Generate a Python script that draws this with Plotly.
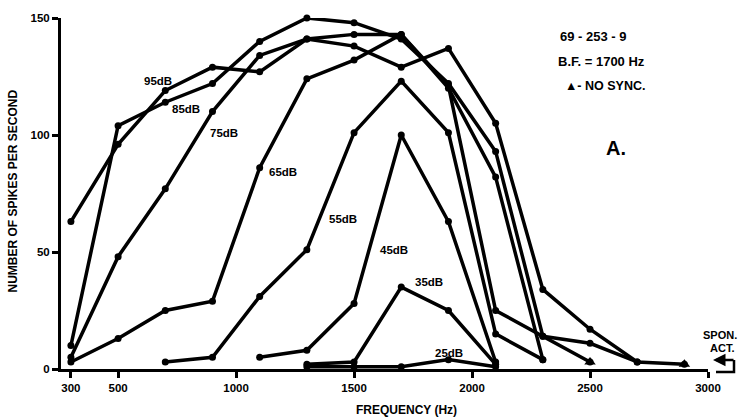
import plotly.graph_objects as go

# ---------------- data ----------------
freq = [300, 500, 700, 900, 1100, 1300, 1500, 1700, 1900, 2100, 2300, 2500, 2700, 2900]

db95 = [63, 96, 119, 129, 127, 141, 138, 129, 137, 105, 34, 17, 3, 2]
db85 = [10, 104, 114, 122, 140, 150, 148, 141, 122, 93, 14, 3, None, None]
db75 = [5, 48, 77, 110, 134, 141, 143, 143, 120, 82, 4, None, None, None]
db65 = [3, 13, 25, 29, 86, 124, 132, 143, 121, 25, 14, 11, 3, None]
db55 = [None, None, 3, 5, 31, 51, 101, 123, 101, 15, 4, None, None, None]
db45 = [None, None, None, None, 5, 8, 28, 100, 63, 3, None, None, None, None]
db35 = [None, None, None, None, None, 2, 3, 35, 25, 2, None, None, None, None]
db25 = [None, None, None, None, None, 1, 1, 1, 4, 1, None, None, None, None]

curve_names = ["95dB", "85dB", "75dB", "65dB", "55dB", "45dB", "35dB", "25dB"]
curves = [db95, db85, db75, db65, db55, db45, db35, db25]

# curve label positions (Hz, spikes/s) - left edge of text
label_x = [601, 720, 881, 1131, 1385, 1601, 1750, 1835]
label_y = [123, 111, 101, 84, 64, 51, 37, 7]

nosync_x = [2500, 2900]
nosync_y = [3, 2]

xtick_vals = [300, 500, 1000, 1500, 2000, 2500, 3000]
ytick_vals = [0, 50, 100, 150]

FONT = "Liberation Sans"

fig = go.Figure()
for name, vals in zip(curve_names, curves):
    xs = [f for f, v in zip(freq, vals) if v is not None]
    ys = [v for v in vals if v is not None]
    fig.add_trace(go.Scatter(
        x=xs, y=ys, mode="lines+markers", name=name,
        line=dict(color="black", width=3.5),
        marker=dict(color="black", size=7),
        cliponaxis=False, showlegend=False,
    ))

fig.add_trace(go.Scatter(
    x=nosync_x, y=nosync_y, mode="markers",
    marker=dict(color="black", size=10, symbol="triangle-up"),
    cliponaxis=False, showlegend=False,
))

for name, lx, ly in zip(curve_names, label_x, label_y):
    fig.add_annotation(x=lx, y=ly, xref="x", yref="y", text=name, showarrow=False,
                       font=dict(family=FONT, size=11.5, color="black", weight="bold"),
                       xanchor="left", yanchor="middle")

def px(xp):
    return (xp - 61) / 647.0

def py(yp):
    return (369 - yp) / 354.0

def note(xp, yp, text, size=12, angle=0):
    fig.add_annotation(x=px(xp), y=py(yp), xref="paper", yref="paper", text=text,
                       showarrow=False, xanchor="center", yanchor="middle", textangle=angle,
                       font=dict(family=FONT, size=size, color="black", weight="bold"))

note(593, 34, "69 - 253 - 9", size=13)
note(601, 59, "B.F. = 1700 Hz", size=13)
note(605, 84, "\u25b2- NO SYNC.", size=12.5)
note(616, 146, "A.", size=20)
note(720, 335, "SPON.", size=11)
note(722, 348, "ACT.", size=11)
note(406, 410, "FREQUENCY (Hz)")
note(13, 190, "NUMBER OF SPIKES PER SECOND", angle=-90)

# spontaneous activity arrow (bracket)
fig.add_annotation(x=px(713), y=py(360), ax=22, ay=0, xref="paper", yref="paper",
                   axref="pixel", ayref="pixel", text="", showarrow=True, arrowhead=2,
                   arrowsize=1, arrowwidth=2.5, arrowcolor="black")
fig.add_shape(type="path", xref="paper", yref="paper",
              path=f"M {px(734)} {py(360)} L {px(734)} {py(372)} L {px(716)} {py(372)}",
              line=dict(color="black", width=2.5))

fig.update_xaxes(range=[258, 3000], tickvals=xtick_vals, ticktext=[str(v) for v in xtick_vals],
                 ticks="outside", ticklen=6, tickwidth=2.5, tickcolor="black",
                 showline=True, linewidth=3, linecolor="black", showgrid=False, zeroline=False,
                 tickfont=dict(family=FONT, size=11.5, color="black", weight="bold"))
fig.update_yaxes(range=[0, 150], tickvals=ytick_vals,
                 ticks="outside", ticklen=6, tickwidth=2.5, tickcolor="black",
                 showline=True, linewidth=3, linecolor="black", showgrid=False, zeroline=False,
                 tickfont=dict(family=FONT, size=11.5, color="black", weight="bold"))

fig.update_layout(width=739, height=417, margin=dict(l=61, r=31, t=15, b=48),
                  plot_bgcolor="white", paper_bgcolor="white", showlegend=False)

fig.write_html("out.html")
